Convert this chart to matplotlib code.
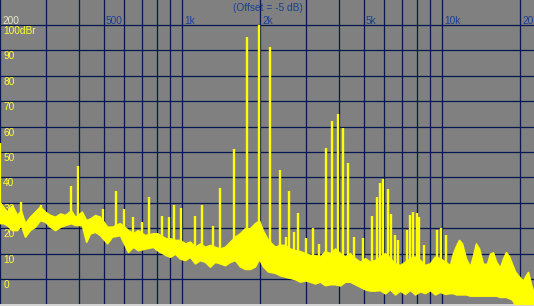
import matplotlib
matplotlib.use('Agg')
import matplotlib.pyplot as plt
import matplotlib.transforms as mtransforms
import numpy as np

# noise floor of the spectrum: upper and lower edge of the yellow band (Hz, dBr)
floor_hz = [200, 205, 212, 222, 232, 240, 249, 260, 272, 284,
            297, 311, 325, 340, 355, 374, 388, 412, 428, 443,
            463, 484, 515, 538, 577, 620, 648, 677, 720, 774,
            802, 868, 900, 940, 982, 1027, 1073, 1122, 1173, 1226,
            1281, 1339, 1400, 1463, 1530, 1599, 1671, 1747, 1826, 1909,
            1978, 2049, 2142, 2279, 2382, 2489, 2602, 2720, 2843, 2972,
            3107, 3248, 3395, 3548, 3709, 3877, 4053, 4236, 4428, 4628,
            4838, 5057, 5285, 5525, 5775, 6036, 6310, 6595, 6895, 7205,
            7533, 7874, 8230, 8603, 8991, 9397, 9825, 10270, 10735, 11020,
            11320, 11630, 11940, 12370, 12815, 13150, 13510, 13880, 14380, 14900,
            15300, 15710, 16130, 16710, 17160, 17620, 18100, 18580, 19090, 19770,
            20490, 21040, 21420, 21990, 22590]
floor_hi = [30, 28.5, 26.5, 29, 25.2, 27, 22, 24.5, 26.5, 28.5,
            26.5, 25.2, 24.5, 25.8, 25.2, 27, 24.5, 26.5, 23.2, 23.8,
            25.2, 24.5, 20.6, 20.6, 22, 19.3, 18, 19.3, 17.3, 18,
            18, 16, 16, 15.4, 15.4, 14, 14.7, 12.7, 14, 12.7,
            13.4, 12.7, 12, 12.7, 14.7, 16.7, 18, 20, 20, 22,
            23, 19, 15.4, 12.7, 13.5, 13.4, 12, 11.4, 11, 10.2,
            9.5, 9.4, 8.8, 11, 10.2, 12, 10.2, 8.8, 10.2, 8.2,
            6.8, 8.2, 6.8, 7.5, 8.8, 10.2, 8.2, 6.2, 5.5, 6.8,
            8.2, 8.8, 7.5, 5.5, 6.2, 8.8, 8.2, 6.8, 5.5, 10,
            13, 15.4, 14, 8, 5, 9, 14, 12, 6, 6,
            10, 10.5, 7, 4.5, 8, 10.6, 9, 6, 3, 1,
            -0.5, 1.5, 2.8, -2, -6]
floor_lo = [22, 22, 21.3, 19.3, 19.3, 21.3, 16.7, 19.3, 20.6, 23.2,
            22.6, 20.6, 19.3, 20.6, 21.3, 22, 21.3, 21.3, 14.7, 18,
            18.6, 17.3, 14.1, 16.7, 17.3, 10.7, 12.7, 11.4, 12, 12.7,
            11.4, 9.4, 8.8, 10, 8.1, 7.5, 8.8, 6.2, 7.5, 6.8,
            4.9, 6.8, 6.2, 5.5, 6.8, 7.5, 5, 4, 4, 5,
            8, 5, 3, 2.5, 1.5, 1, 0.5, 0, -1, -0.5,
            -1, -1.7, -1, -2.4, -2, -2, -2.5, -1, -1, -2,
            -3, -4, -4.5, -4.5, -4.3, -5.6, -4, -6, -4.5, -5.8,
            -4.2, -6, -4.8, -5.5, -4.3, -6, -5, -5.8, -5.5, -5.5,
            -6, -6, -6, -6, -6.5, -6.5, -6.5, -6.5, -6.5, -6.5,
            -6.5, -6.5, -6.5, -7, -7, -7, -7.5, -8, -10, -10,
            -10, -10, -10, -10, -10]

# discrete spectral lines (Hz, dBr)
peak_hz = [200, 240, 287, 374, 398, 497, 557, 598, 648, 702,
           746, 838, 891, 932, 991, 1122, 1194, 1316, 1400, 1585,
           1778, 1978, 2180, 2382, 2512, 2579, 2697, 2793, 2999, 3191,
           3365, 3580, 3776, 3981, 4160, 4349, 4587, 4968, 5383, 5623,
           5775, 5933, 6198, 6368, 6595, 6771, 7332, 7533, 7740, 8013,
           8155, 8530, 9569, 9912, 10362]
peak_db = [53.5, 30.4, 29, 36.6, 44.5, 27.5, 34.6, 27.5, 24.4, 22.4,
           32.3, 24.8, 24.4, 29, 28, 25, 29, 21, 36, 51,
           95.3, 100, 91.3, 43, 16.5, 34.6, 18.5, 26, 16, 20,
           14, 51.6, 62, 65, 59.4, 45.7, 16.5, 16, 24.8, 32.3,
           38, 39.4, 35.4, 25.6, 17.3, 15.4, 19.3, 25.2, 26.4, 26,
           24.4, 13.4, 19.3, 20, 17.3]

db_levels = [0, 10, 20, 30, 40, 50, 60, 70, 80, 90, 100]
db_labels = ['0', '10', '20', '30', '40', '50', '60', '70', '80', '90', '100dBr']
grid_hz = [200, 300, 400, 500, 600, 700, 800, 900, 1000,
           2000, 3000, 4000, 5000, 6000, 7000, 8000, 9000, 10000, 20000]
freq_ticks = [200, 500, 1000, 2000, 5000, 10000, 20000]
freq_labels = ['200', '500', '1k', '2k', '5k', '10k', '20k']

YELLOW = '#ffff00'
GRID = '#061850'
BLUE = '#1c3f94'

plt.rcParams['font.family'] = ['Liberation Sans', 'DejaVu Sans']

fig = plt.figure(figsize=(5.34, 3.06), dpi=100)
fig.patch.set_facecolor('#d4d4d4')
ax = fig.add_axes([0, 2 / 306, 1, 304 / 306])
ax.set_facecolor('#808080')
ax.set_xscale('log')
ax.set_xlim(199.5, 22590)
ax.set_ylim(-9.8, 109.8)
ax.xaxis.set_major_locator(matplotlib.ticker.NullLocator())
ax.xaxis.set_minor_locator(matplotlib.ticker.NullLocator())
ax.yaxis.set_major_locator(matplotlib.ticker.NullLocator())
for s in ax.spines.values():
    s.set_visible(False)

for f in grid_hz:
    ax.axvline(f, color=GRID, lw=0.9, zorder=1)
for lv in db_levels:
    ax.axhline(lv, color=GRID, lw=0.9, zorder=1)

# spectrum
ax.fill_between(floor_hz, floor_lo, floor_hi, color=YELLOW, lw=1.2,
                edgecolor=YELLOW, zorder=3)
base = np.interp(np.log10(peak_hz), np.log10(floor_hz), floor_lo)
ax.vlines(peak_hz, base, peak_db, color=YELLOW, lw=1.7, zorder=3)

# labels inside the plot
for lv, lab in zip(db_levels, db_labels):
    ax.text(0.006, lv - 0.4, lab, transform=ax.get_yaxis_transform(),
            color='#ffff30', fontsize=7.3, va='top', ha='left', zorder=5)

shift = mtransforms.offset_copy(ax.transData, fig=fig, x=2, y=0, units='dots')
for f, lab in zip(freq_ticks, freq_labels):
    col = '#e8e8c8' if f == 200 else BLUE
    ax.text(f, 100.4, lab, transform=shift, color=col, fontsize=7.3,
            va='baseline', ha='left', zorder=5, clip_on=True)

ax.text(233 / 534, 1 - 11 / 304, '(Offset = -5 dB)', transform=ax.transAxes,
        color=BLUE, fontsize=7.3, va='baseline', ha='left', zorder=5)

fig.savefig('out.png', dpi=100, facecolor=fig.get_facecolor())
